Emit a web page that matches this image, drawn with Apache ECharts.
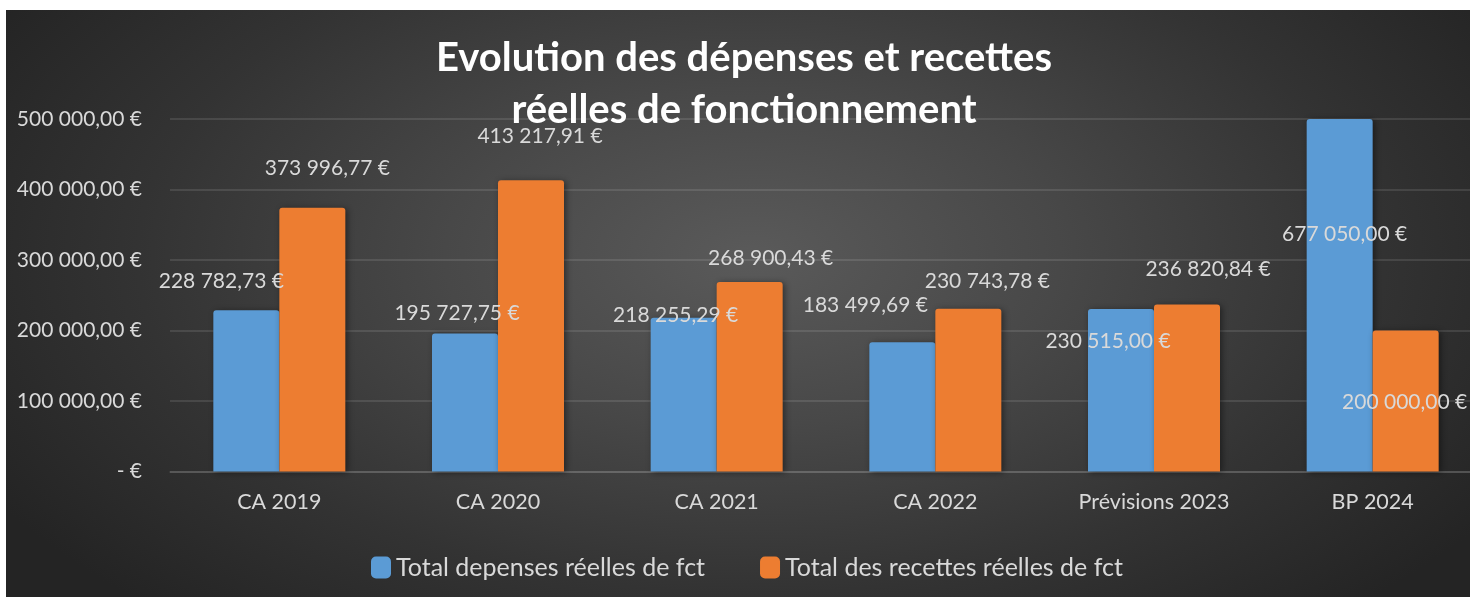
<!DOCTYPE html>
<html>
<head>
<meta charset="utf-8">
<script src="https://cdn.jsdelivr.net/npm/echarts@6/dist/echarts.min.js"></script>
<style>
  html, body { margin: 0; padding: 0; background: #ffffff; }
  #chart {
    position: absolute; left: 6px; top: 10px; width: 1464px; height: 587px;
    background: radial-gradient(ellipse 60% 82% at 51% 42%, #5a5a5a 0%, #484848 35%, #333333 70%, #242424 100%);
  }
</style>
</head>
<body>
<div id="chart"></div>
<script>
// Budget de fonctionnement : dépenses et recettes réelles par exercice
const categories = ['CA 2019', 'CA 2020', 'CA 2021', 'CA 2022', 'Prévisions 2023', 'BP 2024'];
const depenses = [228782.73, 195727.75, 218255.29, 183499.69, 230515.00, 677050.00];
const recettes = [373996.77, 413217.91, 268900.43, 230743.78, 236820.84, 200000.00];
const yTicks = { min: 0, max: 500000, step: 100000 };

// label anchor offsets (centre of label, relative to bar's top-left corner)
const depensesLabelPos = [[8, -29], [25, -20], [25, -2], [-4, -37], [20, 32], [38, 115]];
const recettesLabelPos = [[48, -40], [42, -44], [54, -24], [52, -28], [54, -35], [32, 72]];

const FONT = 'Lato, "Open Sans", sans-serif';
const TXT = '#d9d9d9';

function euro(v) {
  if (v === 0) return '- €';
  const parts = v.toFixed(2).split('.');
  const intPart = parts[0].replace(/\B(?=(\d{3})+(?!\d))/g, ' ');
  return intPart + ',' + parts[1] + ' €';
}

function seriesData(values, positions) {
  return values.map((v, i) => ({
    value: v,
    label: { position: positions[i] }
  }));
}

const labelBase = {
  show: true,
  color: TXT,
  fontFamily: FONT,
  fontSize: 21,
  align: 'center',
  verticalAlign: 'middle',
  formatter: p => euro(p.value)
};

const barShadow = {
  borderRadius: [3, 3, 0, 0],
  shadowColor: 'rgba(0,0,0,0.45)',
  shadowBlur: 6,
  shadowOffsetX: 2,
  shadowOffsetY: 1
};

const chart = echarts.init(document.getElementById('chart'), null, { renderer: 'canvas' });
chart.setOption({
  backgroundColor: 'transparent',
  animation: false,
  graphic: [{
    type: 'text',
    x: 738,
    y: 74,
    style: {
      text: 'Evolution des dépenses et recettes\nréelles de fonctionnement',
      align: 'center',
      verticalAlign: 'middle',
      font: 'bold 40px ' + FONT,
      lineHeight: 52,
      fill: '#ffffff'
    },
    z: 10
  }],
  legend: {
    left: 360,
    top: 540,
    itemWidth: 20,
    itemHeight: 22,
    itemGap: 55,
    icon: 'roundRect',
    textStyle: { color: TXT, fontFamily: FONT, fontSize: 25 },
    data: ['Total depenses réelles de fct', 'Total des recettes réelles de fct']
  },
  grid: {
    left: 164, width: 1312, top: 109, bottom: 125.5,
    containLabel: false,
    outerBoundsMode: 'none'
  },
  xAxis: {
    type: 'category',
    data: categories,
    axisTick: { show: false },
    axisLine: { lineStyle: { color: 'rgba(255,255,255,0.14)', width: 1.5 } },
    axisLabel: { color: TXT, fontFamily: FONT, fontSize: 21.5, margin: 20 }
  },
  yAxis: {
    type: 'value',
    min: yTicks.min,
    max: yTicks.max,
    interval: yTicks.step,
    axisLine: { show: false },
    axisTick: { show: false },
    splitLine: { lineStyle: { color: 'rgba(255,255,255,0.14)', width: 1.5 } },
    axisLabel: { color: TXT, fontFamily: FONT, fontSize: 21, margin: 28, formatter: euro }
  },
  series: [
    {
      name: 'Total depenses réelles de fct',
      type: 'bar',
      barWidth: 66,
      barGap: '0%',
      clip: true,
      itemStyle: Object.assign({ color: '#5b9bd5' }, barShadow),
      label: labelBase,
      data: seriesData(depenses, depensesLabelPos)
    },
    {
      name: 'Total des recettes réelles de fct',
      type: 'bar',
      barWidth: 66,
      barGap: '0%',
      clip: true,
      itemStyle: Object.assign({ color: '#ed7d31' }, barShadow),
      label: labelBase,
      data: seriesData(recettes, recettesLabelPos)
    }
  ]
});
</script>
</body>
</html>
